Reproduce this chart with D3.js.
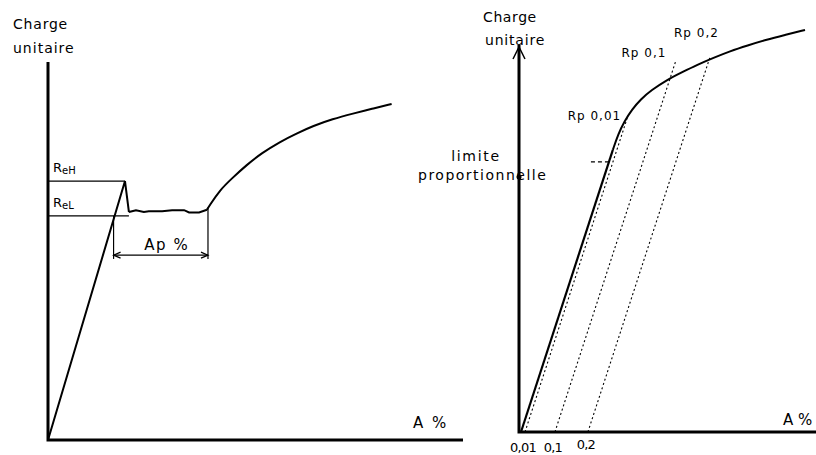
<!DOCTYPE html>
<html><head><meta charset="utf-8">
<script src="https://cdn.jsdelivr.net/npm/d3@7"></script>
<style>
body{margin:0;background:#fff}
text{font-family:"DejaVu Sans",sans-serif;fill:#000}
</style>
</head><body>
<svg id="chart" width="816" height="455"></svg>
<script>
// ---------- DATA (arbitrary stress/strain units) ----------
// Left panel: material with a yield point
const leftPeak = [[0,0],[18.55,68.5],[19.5,60.3]];
const leftPlateau = [[19.5,60.3],[21.2,60.8],[23.1,60.3],[24.3,60.5],[27.5,60.5],[29.9,60.8],[32.8,60.8],[34.0,60.2],[36.4,60.2],[38.3,60.9]];
const leftHardening = [[38.3,60.9],[38.9,62.0],[41.4,66.1],[44.3,69.2],[47.9,72.8],[51.5,75.9],[55.9,78.9],[59.9,81.1],[63.9,83.1],[68.5,84.9],[73.6,86.4],[78.0,87.6],[82.8,88.9]];
const levelNames = ["eH","eL"];
const levelValues = [68.5, 59.3];
const levelEnds = [18.55, 19.5];
const apStart = 15.8, apEnd = 38.55, apLevel = 48.9, apBottom = 47.9, apTopRight = 61.5;
// Right panel: material without yield point
const rightLinear = [[0.67,0],[31.6,72.9]];
const rightCurve = [[31.6,72.9],[33.4,77.0],[35.5,80.3],[38.0,83.3],[41.0,86.0],[44.5,88.3],[49.8,91.0],[55.0,93.0],[60.0,94.9],[65.5,96.7],[71.0,98.4],[77.0,99.9],[83.0,101.3],[89.5,102.6],[96.3,103.9]];
const offsetLabels = ["0,01","0,1","0,2"];
const offsetBase = [2.02, 12.1, 23.2];
const offsetTop = [81.1, 95.6, 96.9];
const rpLabels = ["Rp 0,01","Rp 0,1","Rp 0,2"];
const propLimit = 69.8;

// ---------- SCALES ----------
const svg = d3.select("#chart");
const xL = d3.scaleLinear().domain([0,100]).range([48,463]);
const yL = d3.scaleLinear().domain([0,100]).range([440,62]);
const xR = d3.scaleLinear().domain([0,100]).range([519,816]);
const yR = d3.scaleLinear().domain([0,100]).range([432,45]);

const lineL = d3.line().x(d=>xL(d[0])).y(d=>yL(d[1]));
const lineLs = d3.line().x(d=>xL(d[0])).y(d=>yL(d[1])).curve(d3.curveBasis);
const lineR = d3.line().x(d=>xR(d[0])).y(d=>yR(d[1]));
const lineRs = d3.line().x(d=>xR(d[0])).y(d=>yR(d[1])).curve(d3.curveBasis);

// ---------- LEFT PANEL ----------
const gL = svg.append("g");
gL.append("path").attr("d", lineL([[0,100],[0,0],[100,0]]))
  .attr("fill","none").attr("stroke","#000").attr("stroke-width",3);
gL.append("text").attr("x",13).attr("y",29).attr("font-size",14).attr("letter-spacing",0.8).text("Charge");
gL.append("text").attr("x",13).attr("y",53).attr("font-size",14).attr("letter-spacing",1).text("unitaire");
gL.append("text").attr("x",413).attr("y",428).attr("font-size",15).attr("letter-spacing",2).text("A %");

// level lines ReH / ReL
levelValues.forEach((v,i)=>{
  gL.append("line").attr("x1",xL(0)).attr("x2",xL(levelEnds[i]))
    .attr("y1",yL(v)).attr("y2",yL(v)).attr("stroke","#000").attr("stroke-width",1.2);
  const t = gL.append("text").attr("x",xL(0)+5).attr("y",yL(v)-9).attr("font-size",13);
  t.append("tspan").text("R");
  t.append("tspan").attr("font-size",10).attr("dy",2).text(levelNames[i]);
});

// curve
gL.append("path").attr("d", lineL(leftPeak)).attr("fill","none").attr("stroke","#000").attr("stroke-width",2).attr("stroke-linejoin","miter");
gL.append("path").attr("d", lineL(leftPlateau)).attr("fill","none").attr("stroke","#000").attr("stroke-width",2);
gL.append("path").attr("d", lineLs(leftHardening)).attr("fill","none").attr("stroke","#000").attr("stroke-width",2);

// Ap % dimension
gL.append("line").attr("x1",xL(apStart)).attr("x2",xL(apStart)).attr("y1",yL(levelValues[1])).attr("y2",yL(apBottom)).attr("stroke","#000").attr("stroke-width",1.2);
gL.append("line").attr("x1",xL(apEnd)).attr("x2",xL(apEnd)).attr("y1",yL(apTopRight)).attr("y2",yL(apBottom)).attr("stroke","#000").attr("stroke-width",1.2);
gL.append("line").attr("x1",xL(apStart)).attr("x2",xL(apEnd)).attr("y1",yL(apLevel)).attr("y2",yL(apLevel)).attr("stroke","#000").attr("stroke-width",1.2);
const ay = yL(apLevel), ax1 = xL(apStart), ax2 = xL(apEnd);
gL.append("path").attr("d",`M${ax2-7},${ay-3}L${ax2},${ay}L${ax2-7},${ay+3}`).attr("fill","none").attr("stroke","#000").attr("stroke-width",1.2);
gL.append("path").attr("d",`M${ax1+7},${ay-3}L${ax1},${ay}L${ax1+7},${ay+3}`).attr("fill","none").attr("stroke","#000").attr("stroke-width",1.2);
gL.append("text").attr("x",(ax1+ax2)/2+6).attr("y",ay-5).attr("text-anchor","middle").attr("font-size",15).attr("letter-spacing",1.5).text("Ap %");

// ---------- RIGHT PANEL ----------
const gR = svg.append("g");
gR.append("path").attr("d", lineR([[0,100],[0,0],[100,0]]))
  .attr("fill","none").attr("stroke","#000").attr("stroke-width",3);
const tipX = xR(0), tipY = yR(100)+2;
gR.append("path").attr("d",`M${tipX-6},${tipY+12}L${tipX},${tipY}L${tipX+6},${tipY+12}`).attr("fill","none").attr("stroke","#000").attr("stroke-width",1.5);
gR.append("text").attr("x",483).attr("y",22).attr("font-size",14).attr("letter-spacing",0.6).text("Charge");
gR.append("text").attr("x",485).attr("y",45).attr("font-size",14).attr("letter-spacing",0.8).text("unitaire");
gR.append("text").attr("x",783).attr("y",425).attr("font-size",15).text("A %");

// curve
gR.append("path").attr("d", lineR(rightLinear)).attr("fill","none").attr("stroke","#000").attr("stroke-width",2.2);
gR.append("path").attr("d", lineRs(rightCurve)).attr("fill","none").attr("stroke","#000").attr("stroke-width",2);

// offset lines parallel to the elastic part
const slope = (rightLinear[1][1]-rightLinear[0][1])/(rightLinear[1][0]-rightLinear[0][0]);
const labelDx = [-6,-9,-36], labelDy = [2,-5,-20], labelAnchor = ["end","end","start"];
offsetBase.forEach((b,i)=>{
  const topX = b + offsetTop[i]/slope;
  gR.append("line").attr("x1",xR(b)).attr("y1",yR(0)).attr("x2",xR(topX)).attr("y2",yR(offsetTop[i]))
    .attr("stroke","#000").attr("stroke-width",1.1).attr("stroke-dasharray","2,2.5");
  gR.append("text").attr("x",xR(b)-2).attr("y",yR(0)+ (i===2?17:20)).attr("text-anchor","middle")
    .attr("font-size",13).attr("letter-spacing",-0.8).text(offsetLabels[i]);
  gR.append("text").attr("x",xR(topX)+labelDx[i]).attr("y",yR(offsetTop[i])+labelDy[i])
    .attr("text-anchor",labelAnchor[i]).attr("font-size",12).attr("letter-spacing",1)
    .attr("fill",i===0?"#000":"#333").text(rpLabels[i]);
});

// proportional limit
const plX = rightLinear[0][0] + propLimit/slope;
gR.append("line").attr("x1",xR(plX)-18).attr("x2",xR(plX)).attr("y1",yR(propLimit)).attr("y2",yR(propLimit))
  .attr("stroke","#000").attr("stroke-width",1.2).attr("stroke-dasharray","4,3");
gR.append("text").attr("x",476).attr("y",161).attr("text-anchor","middle").attr("font-size",14).attr("letter-spacing",1.7).text("limite");
gR.append("text").attr("x",418).attr("y",180).attr("font-size",14).attr("letter-spacing",1.5).text("proportionnelle");
gR.append("circle").attr("cx",xR(0)).attr("cy",177).attr("r",2.5).attr("fill","#000");
</script>
</body></html>
